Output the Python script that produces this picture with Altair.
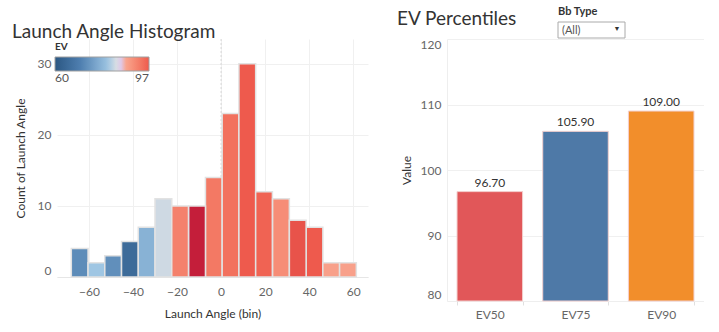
import altair as alt
import pandas as pd

# ---------------- data ----------------
# Launch angle histogram (bin lower edges)
bin_start = [-68.0, -60.4, -52.8, -45.2, -37.6, -30.0, -22.4, -14.7, -7.1,
             0.5, 8.1, 15.7, 23.4, 31.0, 38.6, 46.2, 53.8]
bin_count = [4, 2, 3, 5, 7, 11, 10, 10, 14, 23, 30, 12, 11, 8, 7, 2, 2]
bin_ev = [72, 81, 72.5, 65, 78, 83.5, 92.5, 104, 93.5, 94.5, 97, 96, 91, 98, 97, 88.5, 88.5]
BIN_WIDTH = 7.6

x_ticks = [-60, -40, -20, 0, 20, 40, 60]
y_ticks_hist = [0, 10, 20, 30]

# EV percentiles
pct_labels = ["EV50", "EV75", "EV90"]
pct_values = [96.7, 105.9, 109.0]
pct_colors = ["#e15759", "#4e79a7", "#f28e2b"]
y_ticks_pct = [80, 90, 100, 110, 120]

FONT = "Lato"

hist_df = pd.DataFrame({"start": bin_start, "count": bin_count, "ev": bin_ev})
pct_df = pd.DataFrame({"label": pct_labels, "value": pct_values})

# ---------------- histogram ----------------
xenc = alt.X(
    "start:Q",
    scale=alt.Scale(domain=[-74.5, 66.7], nice=False, zero=False),
    axis=alt.Axis(values=x_ticks, title="Launch Angle (bin)", grid=True,
                  gridColor="#f0f0f0", ticks=False, domainColor="#e6e6e6",
                  labelPadding=9, titlePadding=11),
)
yenc = alt.Y(
    "count:Q",
    scale=alt.Scale(domain=[0, 33.5], nice=False),
    axis=alt.Axis(values=y_ticks_hist, title="Count of Launch Angle", grid=True,
                  gridColor="#f0f0f0", ticks=False, domain=False,
                  labelFlush=True, labelPadding=6, titlePadding=10),
)

base = alt.Chart(hist_df).transform_calculate(end=f"datum.start + {BIN_WIDTH}")

zero_rule = alt.Chart(pd.DataFrame({"z": [0]})).mark_rule(
    color="#d6d6d6", strokeDash=[2, 2], strokeWidth=1
).encode(x=alt.X("z:Q"))

bars_low = base.transform_filter("datum.ev <= 97").mark_bar(
    stroke="#e2e2e2", strokeWidth=1.5
).encode(
    x=xenc, x2="end:Q", y=yenc, y2=alt.datum(0),
    color=alt.Color(
        "ev:Q",
        scale=alt.Scale(domain=[60, 70, 81, 84.5, 88, 97],
                        range=["#2a5783", "#4f7fb0", "#9fc6e3", "#dfe1e3", "#f8a48e", "#ee5a4d"]),
        legend=alt.Legend(orient="none", legendX=-2, legendY=3, direction="horizontal",
                          title="EV", titleFontSize=10, titleFontWeight="bold",
                          titleColor="#333333", titlePadding=5,
                          gradientLength=94, gradientThickness=14,
                          gradientStrokeColor="#a0a0a0", gradientStrokeWidth=1,
                          values=[60, 97], labelFontSize=12, labelColor="#555555",
                          labelOffset=2),
    ),
)
bars_high = base.transform_filter("datum.ev > 97").mark_bar(
    stroke="#e2e2e2", strokeWidth=1.5
).encode(
    x=xenc, x2="end:Q", y=yenc, y2=alt.datum(0),
    color=alt.Color("ev:Q", scale=alt.Scale(domain=[97, 104], range=["#ee5a4d", "#c41e3a"]),
                    legend=None),
)

hist = alt.layer(zero_rule, bars_low, bars_high).resolve_scale(color="independent").properties(
    width=311, height=238,
    title=alt.TitleParams("Launch Angle Histogram", anchor="start", frame="group",
                          dx=-45, dy=7, fontSize=19, fontWeight="normal", color="#333333",
                          font=FONT, offset=4),
)

# ---------------- EV percentiles ----------------
px = alt.X("label:N", sort=pct_labels,
           scale=alt.Scale(paddingInner=0.235, paddingOuter=0.117),
           axis=alt.Axis(title=None, labelAngle=0, tickBand="extent", tickSize=4,
                         tickColor="#e0e0e0", domainColor="#eeeeee", labelPadding=4,
                         labelFontSize=12))
py = alt.Y("value:Q", scale=alt.Scale(domain=[80, 120], nice=False, zero=False),
           axis=alt.Axis(values=y_ticks_pct, title="Value", grid=True, gridColor="#f0f0f0",
                         ticks=False, domainColor="#eeeeee", labelFlush=True,
                         labelPadding=6, titlePadding=7))

pbars = alt.Chart(pct_df).mark_bar(stroke="#f3d0cf", strokeWidth=1).encode(
    x=px, y=py, y2=alt.datum(80),
    color=alt.Color("label:N", sort=pct_labels,
                    scale=alt.Scale(domain=pct_labels, range=pct_colors), legend=None),
)
plabels = alt.Chart(pct_df).mark_text(dy=-9, fontSize=12, color="#333333", font=FONT).encode(
    x=px, y=py, text=alt.Text("value:Q", format=".2f"),
)

# filter widget decoration ("Bb Type" dropdown)
widget_df = pd.DataFrame({"t": ["Bb Type"], "v": ["(All)"], "a": ["\u25BC"]})
w_title = alt.Chart(widget_df).mark_text(align="left", baseline="middle", fontSize=11,
                                         fontWeight="bold", color="#333333", font=FONT).encode(
    x=alt.value(111), y=alt.value(-27), text="t:N")
w_box = alt.Chart(widget_df).mark_rect(fill="white", stroke="#aaaaaa", strokeWidth=1).encode(
    x=alt.value(111), x2=alt.value(178), y=alt.value(-17), y2=alt.value(-1))
w_val = alt.Chart(widget_df).mark_text(align="left", baseline="middle", fontSize=11,
                                       color="#555555", font=FONT).encode(
    x=alt.value(115), y=alt.value(-8.5), text="v:N")
w_arrow = alt.Chart(widget_df).mark_text(align="center", baseline="middle", fontSize=7,
                                         color="#333333").encode(
    x=alt.value(170), y=alt.value(-10), text="a:N")

pct = alt.layer(pbars, plabels, w_title, w_box, w_val, w_arrow).properties(
    width=257, height=262,
    title=alt.TitleParams("EV Percentiles", anchor="start", frame="group",
                          dx=-50, dy=27, fontSize=19, fontWeight="normal", color="#333333",
                          font=FONT, offset=4),
)

chart = alt.hconcat(hist, pct, spacing=29).properties(
    padding={"left": 12, "top": 6, "right": 0, "bottom": 0},
    background="white",
).configure_view(stroke=None).configure_axis(
    labelFont=FONT, titleFont=FONT, labelColor="#666666", titleColor="#333333",
    labelFontSize=12, titleFontSize=12, titleFontWeight="normal",
).configure_legend(labelFont=FONT, titleFont=FONT)

chart.save("out.html", embed_options={"renderer": "svg", "actions": False})
